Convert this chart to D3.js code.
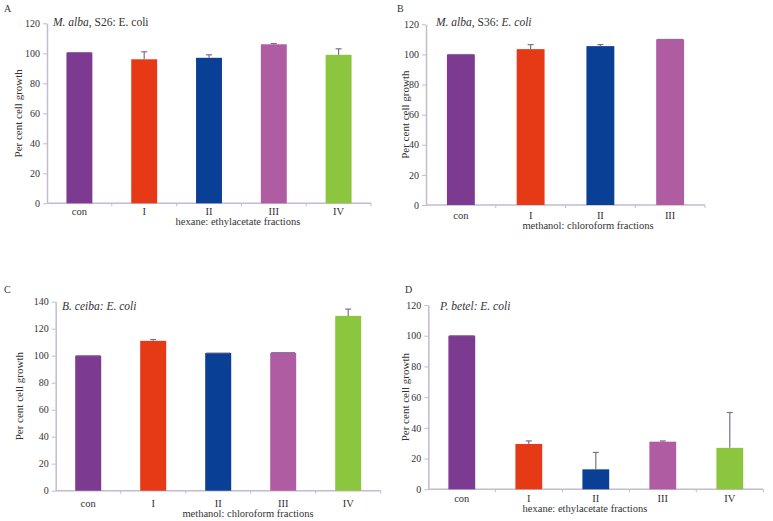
<!DOCTYPE html>
<html>
<head>
<meta charset="utf-8">
<script src="https://cdn.jsdelivr.net/npm/d3@7"></script>
<style>
  body { margin: 0; background: #fff; }
</style>
</head>
<body>
<script>
const WIDTH = 773;
const HEIGHT = 521;
const FONT = '"Liberation Serif", "DejaVu Serif", "Times New Roman", serif';

// data
const catsA = ['con', 'I', 'II', 'III', 'IV'];
const valsA = [100.5, 96, 97, 106, 99];
const errA = [100.5, 101, 99, 106.5, 103];

const catsB = ['con', 'I', 'II', 'III'];
const valsB = [100, 103.5, 105.5, 110];
const errB = [100, 106.5, 106.5, 110];

const catsC = ['con', 'I', 'II', 'III', 'IV'];
const valsC = [100, 111, 102, 102, 129.5];
const errC = [100, 112, 102, 102.3, 134.5];

const catsD = ['con', 'I', 'II', 'III', 'IV'];
const valsD = [100, 29.5, 13, 31, 27];
const errD = [100, 31.5, 24, 31.5, 50];

const yTicks120 = [0, 20, 40, 60, 80, 100, 120];
const yTicks140 = [0, 20, 40, 60, 80, 100, 120, 140];

const COLORS = ['#7d3a91', '#e63a17', '#0a3f96', '#b05ca3', '#8cc63e'];
const AXIS = '#c4bad2';
const ERR = '#7e6e8e';
const INK = '#333';

const svg = d3.select('body')
  .append('svg')
  .attr('width', WIDTH)
  .attr('height', HEIGHT);

function label(g, size) {
  return g.append('text')
    .attr('font-family', FONT)
    .attr('font-size', size)
    .attr('fill', INK);
}

function drawPanel(p) {
  const g = svg.append('g');

  const x = d3.scaleBand()
    .domain(p.cats)
    .range([p.x0, p.x1])
    .paddingInner(0.6)
    .paddingOuter(0.3);

  const y = d3.scaleLinear()
    .domain([0, p.yMax])
    .range([p.yBottom, p.yTop]);

  // y axis
  const yAxis = g.append('g')
    .attr('transform', `translate(${p.x0},0)`)
    .call(d3.axisLeft(y).tickValues(p.yTicks).tickSize(4).tickPadding(3).tickSizeOuter(0));
  yAxis.attr('font-family', FONT).attr('font-size', 10);
  yAxis.select('.domain').attr('stroke', AXIS).attr('stroke-width', 1.5);
  yAxis.selectAll('.tick line').attr('stroke', AXIS);
  yAxis.selectAll('.tick text').attr('fill', INK);

  // x axis line with boundary ticks
  g.append('line')
    .attr('x1', p.x0).attr('x2', p.x1)
    .attr('y1', p.yBottom).attr('y2', p.yBottom)
    .attr('stroke', AXIS).attr('stroke-width', 1.5);
  const step = x.step();
  d3.range(1, p.cats.length + 1).forEach(i => {
    g.append('line')
      .attr('x1', p.x0 + i * step).attr('x2', p.x0 + i * step)
      .attr('y1', p.yBottom).attr('y2', p.yBottom + 3)
      .attr('stroke', AXIS);
  });

  // bars
  g.selectAll('rect.bar')
    .data(p.vals)
    .enter()
    .append('rect')
    .attr('class', 'bar')
    .attr('x', (d, i) => x(p.cats[i]))
    .attr('width', x.bandwidth())
    .attr('y', d => y(d))
    .attr('height', d => p.yBottom - y(d))
    .attr('fill', (d, i) => COLORS[i]);

  // error bars
  p.errs.forEach((e, i) => {
    if (e - p.vals[i] < 0.4) {
      g.append('line')
        .attr('x1', x(p.cats[i]) + 1).attr('x2', x(p.cats[i]) + x.bandwidth() - 1)
        .attr('y1', y(e)).attr('y2', y(e))
        .attr('stroke', ERR).attr('stroke-width', 1);
      return;
    }
    const cx = x(p.cats[i]) + x.bandwidth() / 2;
    g.append('line')
      .attr('x1', cx).attr('x2', cx)
      .attr('y1', y(p.vals[i])).attr('y2', y(e))
      .attr('stroke', ERR).attr('stroke-width', 1.2);
    g.append('line')
      .attr('x1', cx - 3).attr('x2', cx + 3)
      .attr('y1', y(e)).attr('y2', y(e))
      .attr('stroke', ERR).attr('stroke-width', 1.2);
  });

  // category labels
  p.cats.forEach(c => {
    label(g, 10.5)
      .attr('x', x(c) + x.bandwidth() / 2)
      .attr('y', p.catY)
      .attr('text-anchor', 'middle')
      .text(c);
  });

  // x title
  label(g, 10.5)
    .attr('x', p.xTitleX)
    .attr('y', p.xTitleY)
    .attr('text-anchor', 'middle')
    .text(p.xTitle);

  // y title
  label(g, 11)
    .attr('transform', `translate(${p.yLabelX},${(p.yTop + p.yBottom) / 2}) rotate(-90)`)
    .attr('text-anchor', 'middle')
    .text('Per cent cell growth');

  // chart title with italic parts
  const t = label(g, 11.5)
    .attr('x', p.titleX)
    .attr('y', p.titleY);
  p.title.forEach(part => {
    t.append('tspan')
      .attr('font-style', part[1] ? 'italic' : 'normal')
      .text(part[0]);
  });

  // panel letter
  label(g, 10)
    .attr('x', p.letterX)
    .attr('y', p.letterY)
    .text(p.letter);
}

drawPanel({
  cats: catsA, vals: valsA, errs: errA, yMax: 120, yTicks: yTicks120,
  x0: 47, x1: 371, yTop: 23.3, yBottom: 203.3,
  catY: 215, xTitle: 'hexane: ethylacetate fractions', xTitleX: 238, xTitleY: 225,
  yLabelX: 22, title: [['M. alba', true], [', S26: E. coli', false]], titleX: 53, titleY: 26,
  letter: 'A', letterX: 4, letterY: 12
});

drawPanel({
  cats: catsB, vals: valsB, errs: errB, yMax: 120, yTicks: yTicks120,
  x0: 426, x1: 705, yTop: 24.3, yBottom: 205,
  catY: 219, xTitle: 'methanol: chloroform fractions', xTitleX: 588, xTitleY: 229,
  yLabelX: 409, title: [['M. alba', true], [', S36: ', false], ['E. coli', true]], titleX: 436, titleY: 26,
  letter: 'B', letterX: 397, letterY: 12
});

drawPanel({
  cats: catsC, vals: valsC, errs: errC, yMax: 140, yTicks: yTicks140,
  x0: 55.7, x1: 380.7, yTop: 301.7, yBottom: 490.7,
  catY: 507, xTitle: 'methanol: chloroform fractions', xTitleX: 248, xTitleY: 517,
  yLabelX: 23, title: [['B. ceiba: E. coli', true]], titleX: 62, titleY: 310,
  letter: 'C', letterX: 4, letterY: 293
});

drawPanel({
  cats: catsD, vals: valsD, errs: errD, yMax: 120, yTicks: yTicks120,
  x0: 428.3, x1: 763.3, yTop: 305, yBottom: 489.3,
  catY: 502, xTitle: 'hexane: ethylacetate fractions', xTitleX: 585, xTitleY: 512,
  yLabelX: 409, title: [['P. betel: E. coli', true]], titleX: 440, titleY: 310,
  letter: 'D', letterX: 405, letterY: 293
});
</script>
</body>
</html>
